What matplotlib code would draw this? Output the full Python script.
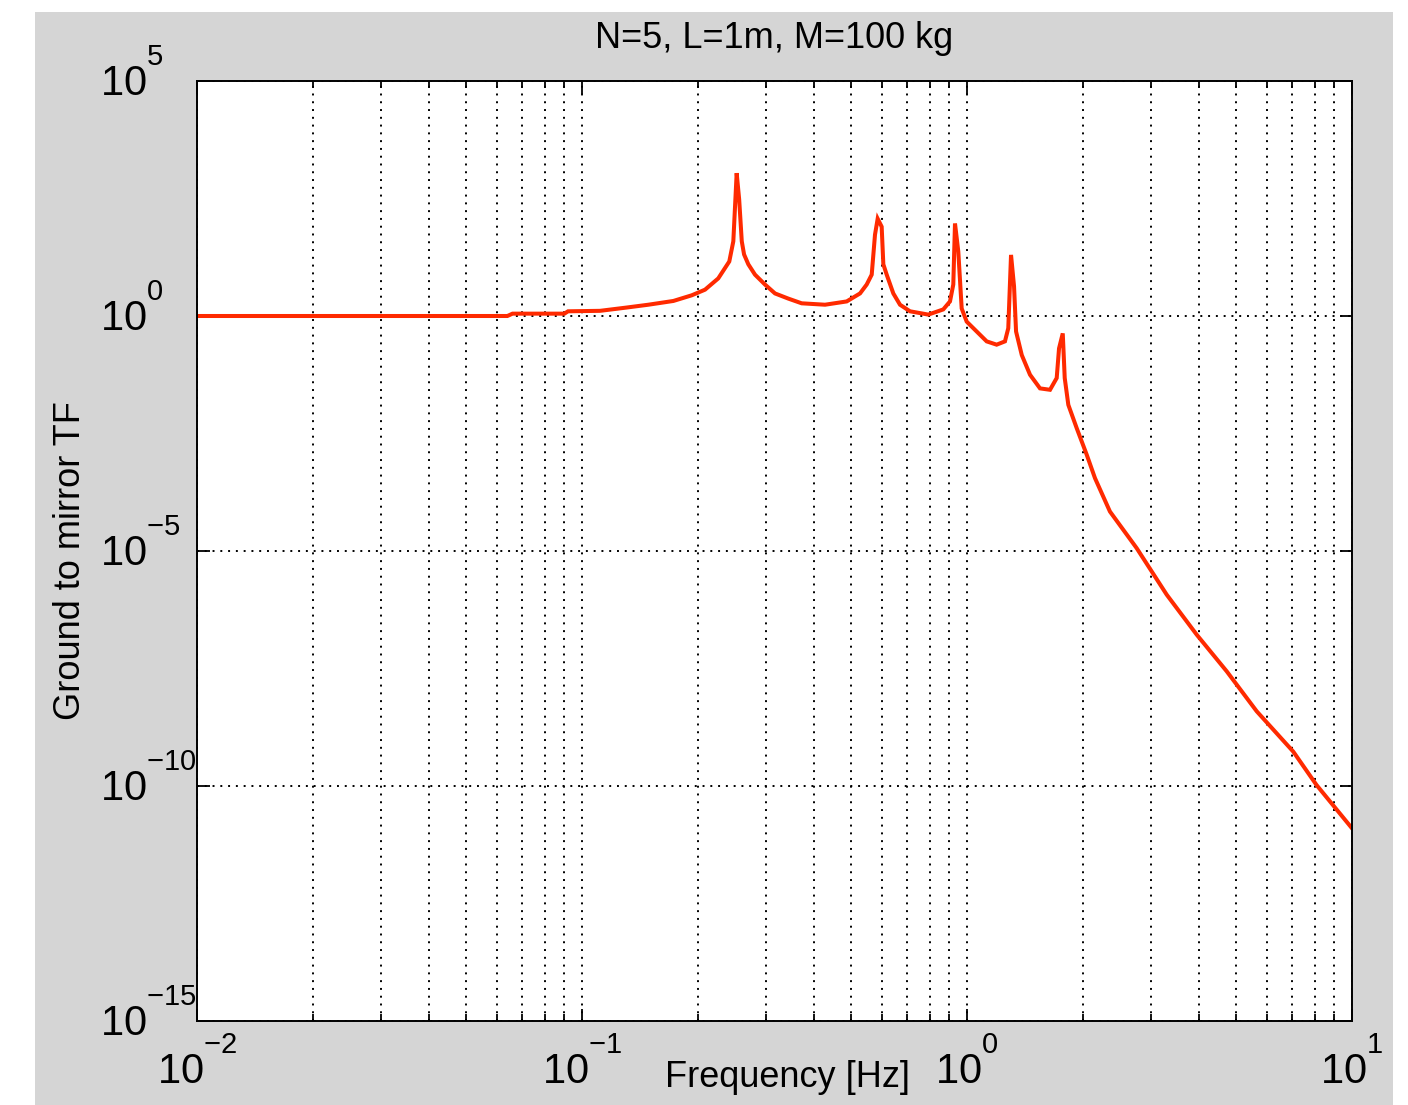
import matplotlib
matplotlib.use("Agg")
import matplotlib.pyplot as plt
import matplotlib._mathtext as _mt
from matplotlib.patches import Rectangle
from matplotlib.ticker import LogLocator, NullLocator, NullFormatter
from matplotlib.transforms import ScaledTranslation
import numpy as np

# ---- data (frequency in Hz, log10 of TF magnitude)
freq_hz = [0.0100, 0.0300, 0.0640, 0.0660, 0.0900, 0.0920, 0.1114, 0.1306, 0.1487,
           0.1727, 0.1927, 0.2087, 0.2259, 0.2413, 0.2472, 0.2522, 0.2560, 0.2600,
           0.2636, 0.2704, 0.2814, 0.2987, 0.3172, 0.3435, 0.3720, 0.4278, 0.4870,
           0.5274, 0.5489, 0.5656, 0.5768, 0.5861, 0.6003, 0.6063, 0.6186, 0.6436,
           0.6699, 0.7112, 0.7933, 0.8677, 0.9033, 0.9213, 0.9307, 0.9493, 0.9687,
           0.9982, 1.0597, 1.1250, 1.1940, 1.2548, 1.2800, 1.3013, 1.3249, 1.3410,
           1.3875, 1.4578, 1.5475, 1.6430, 1.7100, 1.7340, 1.7730, 1.7940, 1.8330,
           1.9280, 2.0460, 2.1500, 2.3510, 2.7590, 3.3020, 3.9500, 4.7270, 5.6550,
           7.0400, 8.0900, 10.000]
tf_log10 = [0.00, 0.00, 0.00, 0.05, 0.05, 0.10, 0.11, 0.18, 0.24,
            0.32, 0.44, 0.56, 0.80, 1.16, 1.59, 3.04, 2.48, 1.59,
            1.31, 1.10, 0.88, 0.67, 0.48, 0.37, 0.27, 0.24, 0.31,
            0.48, 0.67, 0.88, 1.73, 2.07, 1.90, 1.10, 0.88, 0.48,
            0.24, 0.10, 0.03, 0.14, 0.31, 0.67, 1.97, 1.37, 0.16,
            -0.12, -0.33, -0.54, -0.61, -0.54, -0.26, 1.30, 0.63, -0.33,
            -0.83, -1.25, -1.54, -1.57, -1.32, -0.69, -0.37, -1.32, -1.89,
            -2.39, -2.95, -3.45, -4.16, -4.94, -5.93, -6.78, -7.56, -8.41,
            -9.27, -9.98, -10.90]

y_ticks = [1e-15, 1e-10, 1e-5, 1e0, 1e5]
y_tick_labels = [r'$10^{-15}$', r'$10^{-10}$', r'$10^{-5}$', r'$10^{0}$', r'$10^{5}$']
x_ticks = [1e-2, 1e-1, 1e0, 1e1]
x_tick_labels = [r'$10^{-2}$', r'$10^{-1}$', r'$10^{0}$', r'$10^{1}$']

title_text = "N=5, L=1m, M=100 kg"
xlabel_text = "Frequency [Hz]"
ylabel_text = "Ground to mirror TF"

# ---- style
plt.rcParams['font.family'] = ['Liberation Sans', 'DejaVu Sans']
plt.rcParams['mathtext.fontset'] = 'custom'
plt.rcParams['mathtext.rm'] = 'Liberation Sans'
plt.rcParams['mathtext.it'] = 'Liberation Sans:italic'
plt.rcParams['mathtext.bf'] = 'Liberation Sans:bold'
plt.rcParams['mathtext.default'] = 'regular'
# raise exponents higher, like the MATLAB-style labels
_mt.FontConstantsBase.sup1 = 1.3

W, H = 1408, 1105
fig = plt.figure(figsize=(W / 100, H / 100), dpi=100, facecolor='white')
gray = '#d5d5d5'
fig.add_artist(Rectangle((35 / W, 0), (1393 - 35) / W, (H - 12) / H,
                         transform=fig.transFigure, facecolor=gray,
                         edgecolor='none', zorder=-10))

ax_l, ax_r, ax_t, ax_b = 197, 1352, 81, 1021
ax = fig.add_axes([ax_l / W, 1 - ax_b / H, (ax_r - ax_l) / W, (ax_b - ax_t) / H])
ax.set_facecolor('white')

mag = [10.0 ** v for v in tf_log10]
ax.loglog(freq_hz, mag, color='#ff2a00', lw=2.9, solid_joinstyle='miter')

ax.set_xlim(1e-2, 1e1)
ax.set_ylim(1e-15, 1e5)

# ticks
ax.set_xticks(x_ticks, x_tick_labels, fontsize=30)
ax.xaxis.set_minor_locator(LogLocator(base=10, subs=np.arange(2, 10)))
ax.xaxis.set_minor_formatter(NullFormatter())
ax.set_yticks(y_ticks, y_tick_labels, fontsize=30, ha='left', va='baseline')
ax.yaxis.set_minor_locator(NullLocator())

ax.tick_params(which='both', direction='in', top=True, right=True, color='black')
ax.tick_params(axis='x', which='major', length=9, width=1.3, pad=12.5)
ax.tick_params(axis='x', which='minor', length=5, width=1.3)
ax.tick_params(axis='y', which='major', length=9, width=1.3, pad=(ax_l - 100) / 1.389)

# shift y tick labels so the "10" is centred on the tick
for lab in ax.get_yticklabels():
    lab.set_transform(lab.get_transform() + ScaledTranslation(0, -15 / 100, fig.dpi_scale_trans))

for sp in ax.spines.values():
    sp.set_linewidth(1.4)
    sp.set_color('black')

# grid (dotted, MATLAB style)
ax.grid(True, which='major', axis='both', color='black', linestyle=(0, (1, 3)), lw=1.4)
ax.grid(True, which='minor', axis='x', color='black', linestyle=(0, (1, 3)), lw=1.4)
ax.set_axisbelow(True)

# labels
ax.set_title(title_text, fontsize=26, pad=(ax_t - 48) / 1.389)
ax.set_xlabel(xlabel_text, fontsize=26, va='baseline')
ax.xaxis.set_label_coords((788 - ax_l) / (ax_r - ax_l), (ax_b - 1087) / (ax_b - ax_t))
ax.set_ylabel(ylabel_text, fontsize=26, va='baseline')
ax.yaxis.set_label_coords((80 - ax_l) / (ax_r - ax_l), (ax_b - 561) / (ax_b - ax_t))

fig.savefig('out.png', dpi=100, facecolor='white')
